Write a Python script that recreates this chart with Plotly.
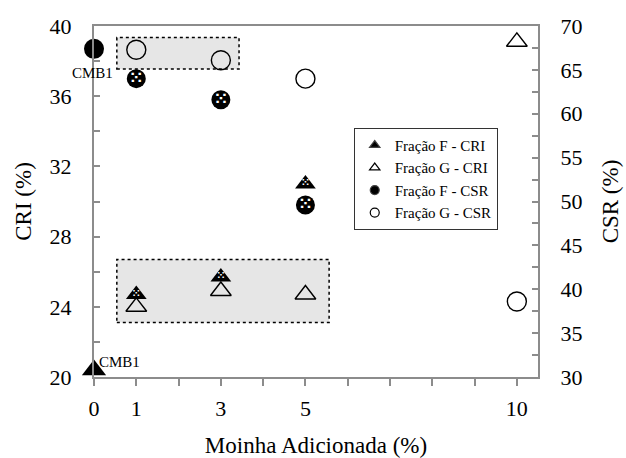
import plotly.graph_objects as go

# Moinha added (%) for the blend series
moinha = [1, 3, 5]
moinha_g = [1, 3, 5, 10]

# Base blend CMB1 (0 % moinha)
cmb1_cri = 20.4
cmb1_csr = 67.4

# CRI (%) – left axis
cri_f = [24.7, 25.7, 31.0]
cri_g = [24.0, 24.9, 24.7, 39.1]

# CSR (%) – right axis
csr_f = [64.0, 61.6, 49.6]
csr_g = [67.3, 66.1, 64.0, 38.6]

SERIF = "Liberation Serif, Times New Roman, serif"
DOTS = "⁙"

fig = go.Figure()

# highlighted regions
fig.add_shape(type="rect", xref="x", yref="y", x0=0.54, x1=3.43, y0=37.55, y1=39.35,
              fillcolor="#e6e6e6", line=dict(color="black", width=1.5, dash="dot"), layer="below")
fig.add_shape(type="rect", xref="x", yref="y", x0=0.54, x1=5.56, y0=23.1, y1=26.7,
              fillcolor="#e6e6e6", line=dict(color="black", width=1.5, dash="dot"), layer="below")

# CMB1 reference points
fig.add_trace(go.Scatter(x=[0], y=[cmb1_cri], mode="markers",
                         marker=dict(symbol="triangle-up", size=21, color="black"),
                         cliponaxis=False, showlegend=False))
fig.add_trace(go.Scatter(x=[0], y=[cmb1_csr], yaxis="y2", mode="markers",
                         marker=dict(symbol="circle", size=20, color="black"),
                         cliponaxis=False, showlegend=False))
fig.add_annotation(x=0, y=cmb1_cri, xref="x", yref="y", text="CMB1", showarrow=False,
                   xanchor="left", yanchor="middle", xshift=3, yshift=8,
                   font=dict(family=SERIF, size=15, color="black"))
fig.add_annotation(x=0, y=cmb1_csr, xref="x", yref="y2", text="CMB1", showarrow=False,
                   xanchor="center", yanchor="middle", xshift=-2, yshift=-24,
                   font=dict(family=SERIF, size=15, color="black"))

# CRI series
fig.add_trace(go.Scatter(x=moinha_g, y=cri_g, mode="markers",
                         marker=dict(symbol="triangle-up-open", size=18, color="black", line=dict(width=1.4)),
                         cliponaxis=False, showlegend=False))
fig.add_trace(go.Scatter(x=moinha, y=cri_f, mode="markers+text", text=[DOTS] * 3,
                         textposition="middle center",
                         textfont=dict(family="DejaVu Sans", size=10, color="white", weight="bold"),
                         marker=dict(symbol="triangle-up", size=18, color="black"),
                         cliponaxis=False, showlegend=False))

# CSR series
fig.add_trace(go.Scatter(x=moinha_g, y=csr_g, yaxis="y2", mode="markers",
                         marker=dict(symbol="circle-open", size=19, color="black", line=dict(width=1.4)),
                         cliponaxis=False, showlegend=False))
fig.add_trace(go.Scatter(x=moinha, y=csr_f, yaxis="y2", mode="markers+text", text=[DOTS] * 3,
                         textposition="middle center",
                         textfont=dict(family="DejaVu Sans", size=16, color="white", weight="bold"),
                         marker=dict(symbol="circle", size=19, color="black"),
                         cliponaxis=False, showlegend=False))

# legend entries
legend_items = [
    ("Fração F - CRI", "triangle-up"),
    ("Fração G - CRI", "triangle-up-open"),
    ("Fração F - CSR", "circle"),
    ("Fração G - CSR", "circle-open"),
]
for name, sym in legend_items:
    fig.add_trace(go.Scatter(x=[None], y=[None], mode="markers", name=name,
                             marker=dict(symbol=sym, size=9, color="black", line=dict(width=1.2))))

axis_line = dict(showline=True, linecolor="#8c8c8c", linewidth=2, showgrid=False, zeroline=False,
                 tickcolor="#8c8c8c", tickwidth=2, automargin=False,
                 tickfont=dict(family=SERIF, size=22, color="black"))

x_ticks = list(range(0, 11))
x_labels = {0: "0", 1: "1", 3: "3", 5: "5", 10: "10"}
y_ticks = list(range(20, 41, 2))
y2_ticks = [30 + 2.5 * i for i in range(17)]

fig.update_layout(
    width=626, height=458,
    margin=dict(l=94, r=88, t=26, b=81),
    paper_bgcolor="white", plot_bgcolor="white",
    font=dict(family=SERIF, color="black"),
    xaxis=dict(range=[0, 10.5], tickvals=x_ticks,
               ticktext=[x_labels.get(v, "") for v in x_ticks],
               ticks="outside", ticklen=7, mirror=True, ticklabelstandoff=4,
               title=dict(text="Moinha Adicionada (%)", font=dict(family=SERIF, size=23), standoff=22),
               **axis_line),
    yaxis=dict(range=[20, 40], tickvals=y_ticks,
               ticktext=[str(v) if v % 4 == 0 else "" for v in y_ticks],
               ticks="inside", ticklen=6, ticklabelstandoff=16,
               title=dict(text="CRI (%)", font=dict(family=SERIF, size=23), standoff=12),
               **axis_line),
    yaxis2=dict(range=[30, 70], overlaying="y", side="right", tickvals=y2_ticks,
                ticktext=[str(int(v)) if v % 5 == 0 else "" for v in y2_ticks],
                ticks="inside", ticklen=6, ticklabelstandoff=16,
                title=dict(text="CSR (%)", font=dict(family=SERIF, size=23), standoff=20),
                **axis_line),
    legend=dict(x=0.585, y=0.71, xanchor="left", yanchor="top",
                bgcolor="white", bordercolor="#333333", borderwidth=1,
                font=dict(family=SERIF, size=15, color="black"),
                itemwidth=30, tracegroupgap=0),
)

fig.write_html("out.html")
